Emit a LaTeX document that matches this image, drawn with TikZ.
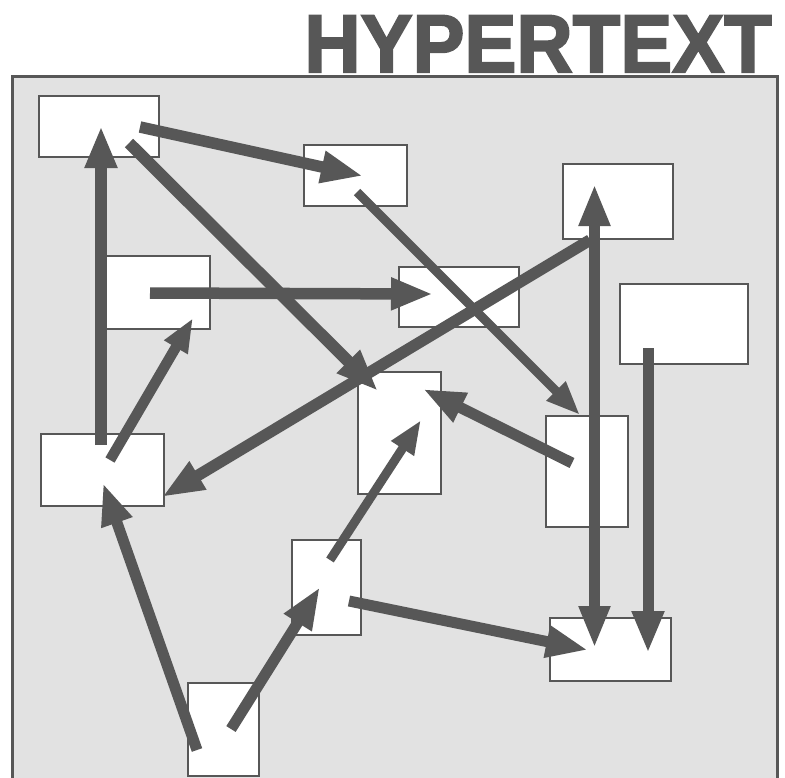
\documentclass[tikz,border=0pt]{standalone}
\usepackage{fontspec}
\usetikzlibrary{arrows.meta}
\definecolor{ink}{HTML}{575757}
\definecolor{panel}{HTML}{E2E2E2}
\newfontfamily\headfont[FakeBold=2.5]{Liberation Sans Bold}
\tikzset{
  page/.style={draw=ink, line width=3pt, fill=panel},
  box/.style={draw=ink, line width=2.5pt, fill=white, inner sep=0pt},
  link/.style={draw=ink, line width=11.5pt, line cap=butt,
    -{Triangle[length=42pt,width=30pt]}},
  thinlink/.style={draw=ink, line width=9pt, line cap=butt,
    -{Triangle[length=34pt,width=25pt]}},
  bothlink/.style={draw=ink, line width=11pt, line cap=butt,
    {Triangle[length=42pt,width=29pt]}-{Triangle[length=42pt,width=29pt]}},
  title/.style={font=\headfont\bfseries\fontsize{82}{82}\selectfont,
    text=ink, inner sep=0pt, xscale=0.95}
}
\begin{document}
\begin{tikzpicture}[x=1pt, y=-1pt]
  \useasboundingbox (0,0) rectangle (785,777);
  \clip (0,0) rectangle (785,777);

  % heading
  \node[title, anchor=base east] (head) at (772,72) {HYPERTEXT};

  % grey panel, open at the bottom
  \path[page] (12,76) rectangle (777,800);

  % pages of the web
  \node[box, minimum width=120pt, minimum height=61pt] (A) at (99,126.5) {};
  \node[box, minimum width=103pt, minimum height=61pt] (B) at (355.5,175.5) {};
  \node[box, minimum width=104pt, minimum height=73pt] (C) at (158,292.5) {};
  \node[box, minimum width=83pt,  minimum height=122pt] (D) at (399.5,433) {};
  \node[box, minimum width=120pt, minimum height=60pt] (E) at (459,297) {};
  \node[box, minimum width=110pt, minimum height=75pt] (F) at (618,201.5) {};
  \node[box, minimum width=128pt, minimum height=80pt] (G) at (684,324) {};
  \node[box, minimum width=82pt,  minimum height=111pt] (H) at (587,471.5) {};
  \node[box, minimum width=121pt, minimum height=63pt] (I) at (610.5,649.5) {};
  \node[box, minimum width=123pt, minimum height=72pt] (J) at (102.5,470) {};
  \node[box, minimum width=69pt,  minimum height=95pt] (K) at (326.5,587.5) {};
  \node[box, minimum width=71pt,  minimum height=93pt] (L) at (223.5,729.5) {};

  % links between pages
  \draw[link] ([shift={(41,0.5)}]A.center) -- ([shift={(7.5,0.5)}]B.center);
  \draw[link] ([shift={(-1.5,-25)}]J.center) -- ([shift={(2,-0.5)}]A.center);
  \draw[link, line width=12pt] ([shift={(30,16.5)}]A.center) -- ([shift={(-21.5,-42)}]D.center);
  \draw[link] ([shift={(-8,0.5)}]C.center) -- ([shift={(-26,-3)}]E.center);
  \draw[thinlink] ([shift={(1.5,16.5)}]B.center) -- ([shift={(-7,-56.5)}]H.center);
  \draw[link] ([shift={(-28,38.5)}]F.center) -- ([shift={(59.5,27)}]J.center);
  \draw[thinlink, line width=10.5pt] ([shift={(7.5,-10)}]J.center) -- ([shift={(35,25.5)}]C.center);
  \draw[link, line width=11pt] ([shift={(-26.5,20.5)}]L.center) -- ([shift={(0.5,13)}]J.center);
  \draw[link, line width=11pt] ([shift={(7.5,-0.5)}]L.center) -- ([shift={(-6.5,-0.5)}]K.center);
  \draw[thinlink] ([shift={(3.5,-27.5)}]K.center) -- ([shift={(21.5,-13)}]D.center);
  \draw[link, line width=11pt] ([shift={(22.5,13.5)}]K.center) -- ([shift={(-22.5,0.5)}]I.center);
  \draw[link, line width=11pt] ([shift={(-15,-8.5)}]H.center) -- ([shift={(23.5,-44)}]D.center);
  \draw[bothlink] ([shift={(-23.5,-17.5)}]F.center) -- ([shift={(-16,-1.5)}]I.center);
  \draw[link, line width=11pt] ([shift={(-36,24)}]G.center) -- ([shift={(37.5,3.5)}]I.center);
\end{tikzpicture}
\end{document}
